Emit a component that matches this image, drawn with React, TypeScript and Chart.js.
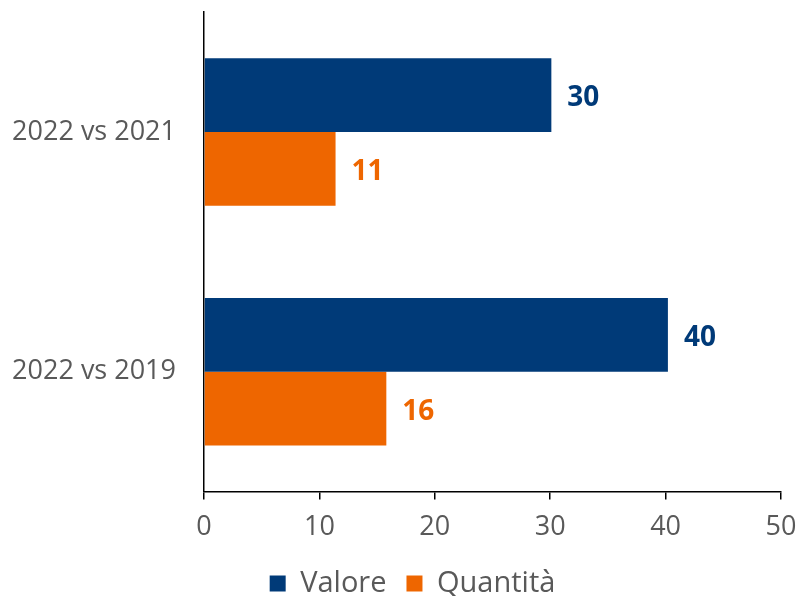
import React, { useEffect, useRef } from "react";
import { Chart, registerables } from "chart.js";

Chart.register(...registerables);

const categories = ["2022 vs 2021", "2022 vs 2019"];
const valore = [30.1, 40.2];
const quantita = [11.4, 15.8];
const valoreLabels = ["30", "40"];
const quantitaLabels = ["11", "16"];
const xTicks = [0, 10, 20, 30, 40, 50];

const FONT = "'Open Sans', sans-serif";
const BLUE = "#003A78";
const ORANGE = "#EE6600";

const labelPlugin = {
  id: "barLabels",
  afterDatasetsDraw(chart: any) {
    const ctx = chart.ctx;
    const labelSets = [valoreLabels, quantitaLabels];
    const colors = [BLUE, ORANGE];
    chart.data.datasets.forEach((_ds: any, di: number) => {
      const meta = chart.getDatasetMeta(di);
      meta.data.forEach((el: any, i: number) => {
        ctx.save();
        ctx.font = `bold 28px ${FONT}`;
        ctx.fillStyle = colors[di];
        ctx.textAlign = "left";
        ctx.textBaseline = "middle";
        ctx.fillText(labelSets[di][i], el.x + 16, el.y + 3);
        ctx.restore();
      });
    });
  },
};

const legendShift = {
  id: "legendShift",
  afterLayout(chart: any) {
    const lg = chart.legend;
    if (lg) {
      lg.left += 22;
      lg.right += 22;
    }
  },
};

export default function App() {
  const ref = useRef<HTMLCanvasElement>(null);
  useEffect(() => {
    if (!ref.current) return;
    const chart = new Chart(ref.current, {
      type: "bar",
      data: {
        labels: categories,
        datasets: [
          { label: "Valore", data: valore, backgroundColor: BLUE, barPercentage: 1, categoryPercentage: 0.615 },
          { label: "Quantità", data: quantita, backgroundColor: ORANGE, barPercentage: 1, categoryPercentage: 0.615 },
        ],
      },
      options: {
        indexAxis: "y",
        animation: false,
        responsive: false,
        layout: { padding: { top: 12, right: 19, left: 0, bottom: -12 } },
        plugins: {
          tooltip: { enabled: false },
          legend: {
            position: "bottom",
            labels: {
              boxWidth: 16,
              boxHeight: 16,
              color: "#595959",
              font: { family: FONT, size: 29 },
              padding: 20,
            },
          },
        },
        scales: {
          x: {
            min: 0,
            max: 50,
            afterBuildTicks: (s: any) => {
              s.ticks = xTicks.map((v) => ({ value: v }));
            },
            afterFit: (s: any) => {
              s.paddingLeft = 0;
              s.paddingRight = 0;
              s.height -= 7;
            },
            grid: { display: true, drawOnChartArea: false, drawTicks: true, tickLength: 8, color: "#000", lineWidth: 1.5 },
            border: { display: true, color: "#000", width: 1.5 },
            ticks: { color: "#595959", font: { family: FONT, size: 27 }, padding: 12 },
          },
          y: {
            grid: { display: false, drawTicks: false },
            border: { display: true, color: "#000", width: 1.5 },
            ticks: { color: "#595959", font: { family: FONT, size: 27 }, padding: 28 },
            afterFit: (s: any) => {
              s.width = 204;
              s.paddingTop = 0;
              s.paddingBottom = 0;
            },
          },
        },
      },
      plugins: [labelPlugin, legendShift],
    } as any);
    return () => chart.destroy();
  }, []);
  return (
    <div style={{ position: "fixed", left: 0, top: 0, width: 800, height: 596, background: "#fff" }}>
      <canvas ref={ref} width={800} height={596} />
    </div>
  );
}
